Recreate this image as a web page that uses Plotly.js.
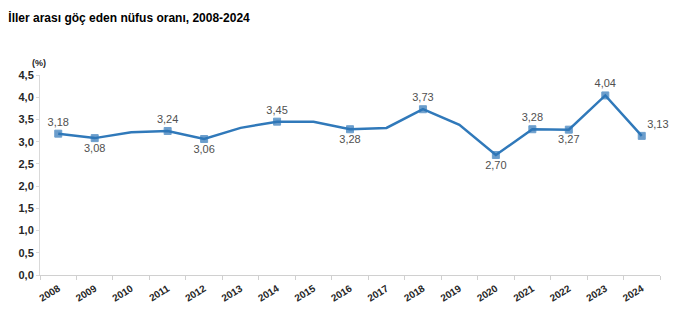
<!DOCTYPE html>
<html><head><meta charset="utf-8">
<script src="https://cdn.plot.ly/plotly-3.0.1.min.js"></script>
<style>html,body{margin:0;padding:0;background:#fff}#c{width:696px;height:323px}</style>
</head><body><div id="c"></div>
<script>
const years = ["2008","2009","2010","2011","2012","2013","2014","2015","2016","2017","2018","2019","2020","2021","2022","2023","2024"];
const rates = [3.18,3.08,3.21,3.24,3.06,3.31,3.45,3.45,3.28,3.31,3.73,3.38,2.70,3.28,3.27,4.04,3.13];
const labeled = [1,1,0,1,1,0,1,0,1,0,1,0,1,1,1,1,1];
const labelPos = ["top center","bottom center","top center","top center","bottom center","top center","top center","top center","bottom center","top center","top center","top center","bottom center","top center","bottom center","top center","top right"];

const text = rates.map((v,i)=> labeled[i] ? v.toFixed(2).replace('.',',') : '');
const msize = labeled.map(l => l ? 7 : 0);

const trace = {
  x: years, y: rates, type: 'scatter', mode: 'lines+markers+text',
  line: {color: '#3079BA', width: 2.5},
  marker: {symbol: 'square', size: msize, color: '#2E75B6'},
  text: text, textposition: labelPos,
  textfont: {family: 'Liberation Sans, Arial, sans-serif', size: 11, color: '#505050'},
  cliponaxis: false, hoverinfo: 'skip'
};

const layout = {
  width: 696, height: 323,
  margin: {l: 40, r: 36, t: 75, b: 48},
  paper_bgcolor: '#fff', plot_bgcolor: '#fff',
  separators: ',.',
  showlegend: false,
  font: {family: 'Liberation Sans, Arial, sans-serif', color: '#404040'},
  title: {text: '<b>İller arası göç eden nüfus oranı, 2008-2024</b>', x: 0.012, xanchor: 'left', y: 0.945, yanchor: 'middle',
          font: {size: 12, color: '#000', family: 'Liberation Sans, Arial, sans-serif'}},
  xaxis: {
    type: 'category', range: [-0.5, 16.5], tickson: 'boundaries',
    showline: true, linecolor: '#d0d0d0', linewidth: 1,
    ticks: 'outside', ticklen: 4, tickcolor: '#d0d0d0',
    showgrid: false, zeroline: false, tickangle: -32, ticklabelstandoff: 3,
    tickfont: {size: 10, color: '#262626', family: 'Liberation Sans, Arial, sans-serif', weight: 'bold'}
  },
  yaxis: {
    range: [0, 4.5], dtick: 0.5, tickformat: '.1f',
    showline: true, linecolor: '#d9d9d9', linewidth: 1,
    ticks: 'outside', ticklen: 3, tickcolor: '#d9d9d9',
    showgrid: false, zeroline: false,
    tickfont: {size: 11, color: '#262626', family: 'Liberation Sans, Arial, sans-serif', weight: 'bold'}
  },
  annotations: [{
    text: '<b>(%)</b>', xref: 'paper', yref: 'paper', x: 0, y: 1, xanchor: 'center', yanchor: 'bottom',
    yshift: 5, xshift: -1, showarrow: false, font: {size: 9, color: '#262626'}
  }]
};

Plotly.newPlot('c', [trace], layout, {displayModeBar: false, staticPlot: true});
</script></body></html>
